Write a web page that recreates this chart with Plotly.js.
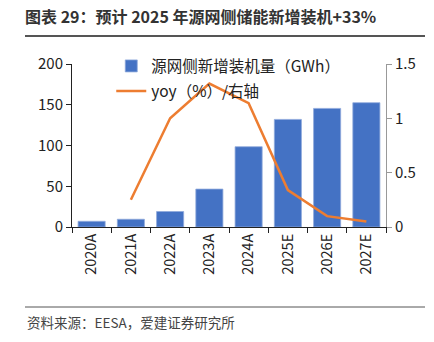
<!DOCTYPE html>
<html><head><meta charset="utf-8">
<script src="https://cdn.plot.ly/plotly-3.0.1.min.js"></script>
<style>html,body{margin:0;padding:0;background:#fff;}#chart{width:434px;height:342px;}</style>
</head><body><div id="chart"></div>
<script>
const categories = ["2020A","2021A","2022A","2023A","2024A","2025E","2026E","2027E"];
const capacity = [7, 9.5, 19, 46.5, 98.5, 132, 145.5, 152.5];
const yoyCats = ["2021A","2022A","2023A","2024A","2025E","2026E","2027E"];
const yoy = [0.25, 1.0, 1.32, 1.14, 0.34, 0.10, 0.05];
const leftTicks = [0,50,100,150,200];
const rightTicks = [0,0.5,1,1.5];
const rightTickText = ["0","0.5","1","1.5"];
const titleText = "图表 29：预计 2025 年源网侧储能新增装机+33%";
const sourceText = "资料来源：EESA，爱建证券研究所";
const barName = "源网侧新增装机量（GWh）";
const lineName = "yoy（%）/右轴";

const F = "'Noto Sans CJK SC', 'Noto Sans', sans-serif";
const data = [
  {type:"bar", x:categories, y:capacity, name:barName, legendgroup:"a",
   marker:{color:"#4472C4", line:{color:"#8FAADC", width:0.8}}},
  {type:"scatter", mode:"lines", x:yoyCats, y:yoy, name:lineName, yaxis:"y2", legendgroup:"b",
   line:{color:"#ED7D31", width:2.5}}
];
const layout = {
  width:434, height:342,
  margin:{l:72, r:48, t:64, b:115},
  paper_bgcolor:"#fff", plot_bgcolor:"#fff",
  font:{family:F, size:13, color:"#222"},
  bargap:0.31,
  showlegend:true,
  legend:{x:0.125, y:1.09, xanchor:"left", yanchor:"top", bgcolor:"rgba(0,0,0,0)",
    font:{family:F, size:15.5, color:"#222"}, traceorder:"grouped", tracegroupgap:2},
  xaxis:{type:"category", categoryarray:categories, categoryorder:"array",
    showline:true, linecolor:"#222", linewidth:1, ticks:"outside", ticklen:5, tickcolor:"#222",
    tickson:"boundaries", tickangle:-90, showgrid:false, zeroline:false,
    tickfont:{family:F, size:14.5, color:"#222"}},
  yaxis:{range:[0,200], tickvals:leftTicks, showline:true, linecolor:"#222", linewidth:1,
    ticks:"outside", ticklen:5, tickcolor:"#222", showgrid:false, zeroline:false,
    tickfont:{family:F, size:15, color:"#222"}},
  yaxis2:{range:[0,1.5], overlaying:"y", side:"right", tickvals:rightTicks, ticktext:rightTickText,
    showline:true, linecolor:"#999", linewidth:1, ticks:"outside", ticklen:5, tickcolor:"#999",
    showgrid:false, zeroline:false, tickfont:{family:F, size:15, color:"#222"}},
  title:{text:"<b>"+titleText+"</b>", x:25/434, xanchor:"left", y:1-17/342, yanchor:"middle",
    font:{family:F, size:16, color:"#333"}},
  shapes:[
    {type:"line", xref:"paper", yref:"paper", x0:-47/314, x1:353/314, y0:(342-36-115)/163, y1:(342-36-115)/163, line:{color:"#555", width:2}},
    {type:"line", xref:"paper", yref:"paper", x0:-47/314, x1:353/314, y0:(342-307-115)/163, y1:(342-307-115)/163, line:{color:"#555", width:1}}
  ],
  annotations:[
    {text:sourceText, xref:"paper", yref:"paper", x:-47/314, xanchor:"left", y:(342-322-115)/163, yanchor:"middle",
     showarrow:false, font:{family:F, size:13.5, color:"#444"}}
  ]
};
Plotly.newPlot("chart", data, layout, {displayModeBar:false, staticPlot:true});
</script></body></html>
